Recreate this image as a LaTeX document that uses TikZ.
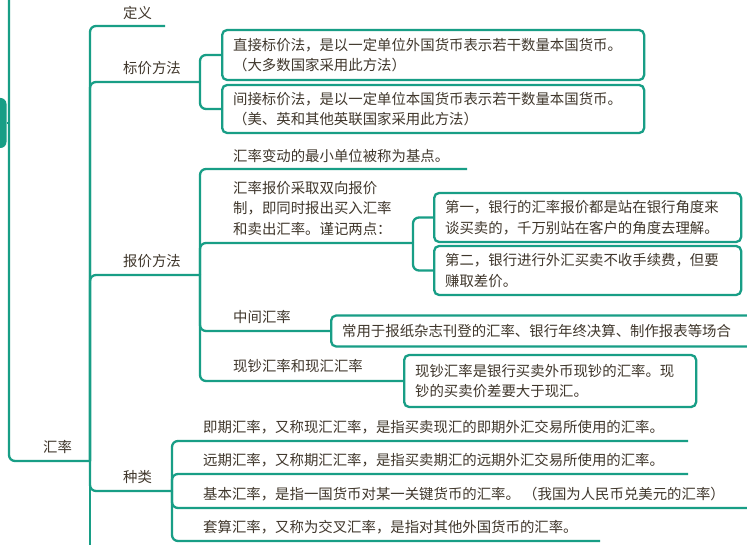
\documentclass[tikz,border=0pt]{standalone}
\usepackage{fontspec}
\newfontfamily\cjk{Noto Sans CJK SC}
\usetikzlibrary{positioning}
\definecolor{mapline}{RGB}{24,158,134}
\definecolor{mapink}{RGB}{64,55,44}
\tikzset{branch/.style={draw=mapline,line width=2.3pt,rounded corners=6pt},
         topic/.style={inner sep=0pt,text=mapink,align=left,font=\cjk\fontsize{14.4}{20.8}\selectfont},
         card/.style={rectangle,draw=mapline,line width=2.3pt,rounded corners=5pt,fill=white,text=mapink,align=left,
                      inner xsep=11pt,inner ysep=0pt,anchor=west,font=\cjk\fontsize{14.4}{20.8}\selectfont},
         root node/.style={fill=mapline,rounded corners=6pt,minimum width=17pt,minimum height=50pt,inner sep=0pt}
}

\begin{document}
\begin{tikzpicture}[x=1pt,y=-1pt]
\useasboundingbox (0,0) rectangle (747,545);
\fill[white] (0,0) rectangle (747,545);

% root and main topic
\node [root node] (root) at (-2,123) {};
\coordinate (up) at (9,-5);
\coordinate (rate-start) at (9,461);
\coordinate (hub) at (90,461);
\coordinate (more) at (90,550);
\node [topic,above right=7pt and 34pt of rate-start] (rate) {汇率};
\draw [branch] (root.east) -- (root.east -| up);
\draw [branch] (up) |- (hub);
\draw [branch] (hub) -- (more);

% 定义
\coordinate (def-start) at (90,26);
\coordinate (def-end) at (165,26);
\node [topic,above right=6pt and 33pt of def-start] (def) {定义};
\draw [branch] (hub) |- (def-end);

% 标价方法
\coordinate (mark-start) at (90,82);
\coordinate (mark-fork) at (200,82);
\node [topic,above right=7pt and 33pt of mark-start] (mark) {标价方法};
\draw [branch] (hub) |- (mark-fork);
\node [card,text width=400pt,minimum height=50pt] (direct) at (221,55)
      {直接标价法，是以一定单位外国货币表示若干数量本国货币。\\（大多数国家采用此方法）};
\node [card,text width=400pt,minimum height=48pt] (indirect) at (221,109)
      {间接标价法，是以一定单位本国货币表示若干数量本国货币。\\（美、英和其他英联国家采用此方法）};
\draw [branch] (mark-fork) |- (direct.west);
\draw [branch] (mark-fork) |- (indirect.west);

% 报价方法
\coordinate (quote-start) at (90,275);
\coordinate (quote-fork) at (200,275);
\node [topic,above right=7pt and 33pt of quote-start] (quote) {报价方法};
\draw [branch] (hub) |- (quote-fork);

\coordinate (pip-start) at (200,169);
\coordinate (pip-end) at (467,169);
\node [topic,above right=6pt and 33pt of pip-start] (pip) {汇率变动的最小单位被称为基点。};
\draw [branch] (quote-fork) |- (pip-end);

\coordinate (twoway-start) at (200,243);
\coordinate (twoway-fork) at (413,243);
\node [topic,above right=7pt and 33pt of twoway-start] (twoway)
      {汇率报价采取双向报价\\制，即同时报出买入汇率\\和卖出汇率。谨记两点：};
\draw [branch] (quote-fork) |- (twoway-fork);
\node [card,text width=285pt,minimum height=49pt] (first) at (433,217.5)
      {第一，银行的汇率报价都是站在银行角度来\\谈买卖的，千万别站在客户的角度去理解。};
\node [card,text width=285pt,minimum height=49pt] (second) at (433,270.5)
      {第二，银行进行外汇买卖不收手续费，但要\\赚取差价。};
\draw [branch] (twoway-fork) |- (first.west);
\draw [branch] (twoway-fork) |- (second.west);

\coordinate (mid-start) at (200,331);
\node [topic,above right=7pt and 33pt of mid-start] (mid) {中间汇率};
\node [card,text width=400pt,minimum height=31pt] (midnote) at (330,331)
      {常用于报纸杂志刊登的汇率、银行年终决算、制作报表等场合};
\draw [branch] (quote-fork) |- (midnote.west);

\coordinate (cash-start) at (200,380);
\node [topic,above right=7pt and 33pt of cash-start] (cash) {现钞汇率和现汇汇率};
\node [card,text width=270pt,minimum height=52pt] (cashnote) at (403,381)
      {现钞汇率是银行买卖外币现钞的汇率。现\\钞的买卖价差要大于现汇。};
\draw [branch] (quote-fork) |- (cashnote.west);

% 种类
\coordinate (kind-start) at (90,491);
\coordinate (kind-fork) at (172,491);
\node [topic,above right=7pt and 33pt of kind-start] (kind) {种类};
\draw [branch] (hub) |- (kind-fork);

\coordinate (spot-start) at (172,441);
\coordinate (spot-end) at (688,441);
\node [topic,above right=7pt and 31pt of spot-start] (spot)
      {即期汇率，又称现汇汇率，是指买卖现汇的即期外汇交易所使用的汇率。};
\draw [branch] (kind-fork) |- (spot-end);

\coordinate (fwd-start) at (172,474);
\coordinate (fwd-end) at (688,474);
\node [topic,above right=7pt and 31pt of fwd-start] (fwd)
      {远期汇率，又称期汇汇率，是指买卖期汇的远期外汇交易所使用的汇率。};
\draw [branch] (kind-fork) |- (fwd-end);

\coordinate (base-start) at (172,508);
\coordinate (base-end) at (752,508);
\node [topic,above right=7pt and 31pt of base-start] (base)
      {基本汇率，是指一国货币对某一关键货币的汇率。 （我国为人民币兑美元的汇率）};
\draw [branch] (kind-fork) |- (base-end);

\coordinate (cross-start) at (172,541);
\coordinate (cross-end) at (600,541);
\node [topic,above right=7pt and 31pt of cross-start] (cross)
      {套算汇率，又称为交叉汇率，是指对其他外国货币的汇率。};
\draw [branch] (kind-fork) |- (cross-end);
\end{tikzpicture}
\end{document}
